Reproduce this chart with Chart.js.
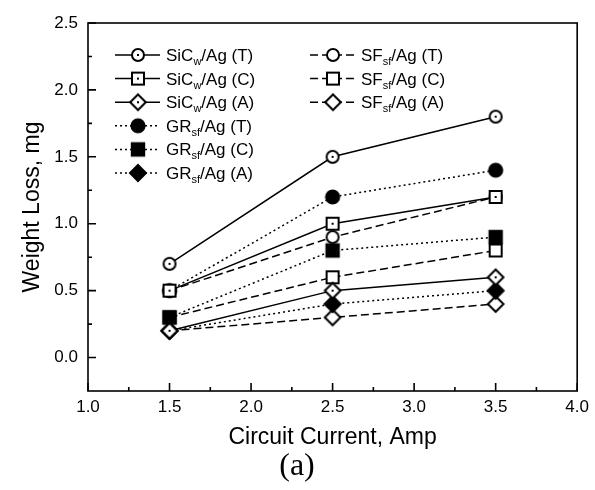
<!DOCTYPE html>
<html>
<head>
<meta charset="utf-8">
<script src="https://cdn.jsdelivr.net/npm/chart.js@4.4.0/dist/chart.umd.min.js"></script>
<style>
    html, body { margin: 0; padding: 0; background: #fff; }
    #wrap { width: 595px; height: 490px; }
</style>
</head>
<body>
<div id="wrap"><canvas id="chart"></canvas></div>
<script>
// values (weight loss in mg vs circuit current in A)
var currents = [1.5, 2.5, 3.5];
var sicT = [0.7, 1.5, 1.8];
var sicC = [0.5, 1.0, 1.2];
var sicA = [0.2, 0.5, 0.6];
var grT = [0.5, 1.2, 1.4];
var grC = [0.3, 0.8, 0.9];
var grA = [0.2, 0.4, 0.5];
var sfT = [0.5, 0.9, 1.2];
var sfC = [0.3, 0.6, 0.8];
var sfA = [0.2, 0.3, 0.4];

var xTicks = [1.0, 1.5, 2.0, 2.5, 3.0, 3.5, 4.0];
var yTicks = [0.0, 0.5, 1.0, 1.5, 2.0, 2.5];

// legend text: base, subscript, tail
var nameBase = ['SiC', 'SiC', 'SiC', 'GR', 'GR', 'GR', 'SF', 'SF', 'SF'];
var nameSub = ['w', 'w', 'w', 'sf', 'sf', 'sf', 'sf', 'sf', 'sf'];
var nameTail = ['/Ag (T)', '/Ag (C)', '/Ag (A)', '/Ag (T)', '/Ag (C)', '/Ag (A)', '/Ag (T)', '/Ag (C)', '/Ag (A)'];

var FONT = '"Liberation Sans", Arial, sans-serif';
var SOLID = [], DOTTED = [2, 3], DASHED = [8, 4];

function makeMarker(shape, filled, dotted) {
    var size = 22, c = document.createElement('canvas');
    c.width = size; c.height = size;
    var ctx = c.getContext('2d'), m = size / 2;
    ctx.lineWidth = 2;
    ctx.strokeStyle = '#000';
    ctx.fillStyle = filled ? '#000' : '#fff';
    ctx.beginPath();
    if (shape === 'circle') {
        ctx.arc(m, m, filled ? 6.6 : 6, 0, Math.PI * 2);
    } else if (shape === 'square') {
        var h = filled ? 6.2 : 6;
        ctx.rect(m - h, m - h, h * 2, h * 2);
    } else {
        var d = filled ? 8 : 7.8;
        ctx.moveTo(m, m - d); ctx.lineTo(m + d, m); ctx.lineTo(m, m + d); ctx.lineTo(m - d, m);
        ctx.closePath();
    }
    ctx.fill();
    ctx.stroke();
    if (dotted) {
        ctx.fillStyle = '#000';
        ctx.fillRect(m - 1, m - 1, 2, 2);
    }
    return c;
}

function series(values, shape, filled, dotted, dash) {
    return {
        data: values.map(function(v, i) { return {x: currents[i], y: v}; }),
        borderColor: '#000',
        borderWidth: 1.5,
        borderDash: dash,
        fill: false,
        tension: 0,
        pointStyle: makeMarker(shape, filled, dotted),
        pointRadius: 6
    };
}

var datasets = [
    series(sicT, 'circle', false, true, SOLID),
    series(sicC, 'square', false, true, SOLID),
    series(sicA, 'diamond', false, true, SOLID),
    series(grT, 'circle', true, false, DOTTED),
    series(grC, 'square', true, false, DOTTED),
    series(grA, 'diamond', true, false, DOTTED),
    series(sfT, 'circle', false, false, DASHED),
    series(sfC, 'square', false, false, DASHED),
    series(sfA, 'diamond', false, false, DASHED)
];

// frame round the plot and inward tick marks
var framePlugin = {
    id: 'frame',
    beforeDatasetsDraw: function(chart) {
        var ctx = chart.ctx, a = chart.chartArea;
        var xs = chart.scales.x, ys = chart.scales.y;
        ctx.save();
        ctx.strokeStyle = '#000';
        ctx.lineWidth = 1.6;
        ctx.strokeRect(a.left, a.top, a.right - a.left, a.bottom - a.top);
        ctx.beginPath();
        xTicks.forEach(function(v, i) {
            var px = xs.getPixelForValue(v);
            ctx.moveTo(px, a.bottom); ctx.lineTo(px, a.bottom - 8);
            if (i < xTicks.length - 1) {
                var mx = xs.getPixelForValue((v + xTicks[i + 1]) / 2);
                ctx.moveTo(mx, a.bottom); ctx.lineTo(mx, a.bottom - 4);
            }
        });
        yTicks.forEach(function(v, i) {
            var py = ys.getPixelForValue(v);
            ctx.moveTo(a.left, py); ctx.lineTo(a.left + 8, py);
            if (i < yTicks.length - 1) {
                var my = ys.getPixelForValue((v + yTicks[i + 1]) / 2);
                ctx.moveTo(a.left, my); ctx.lineTo(a.left + 4, my);
            }
        });
        ctx.stroke();
        ctx.restore();
    }
};

var legendPlugin = {
    id: 'seriesLegend',
    afterDraw: function(chart) {
        var ctx = chart.ctx;
        chart.data.datasets.forEach(function(ds, i) {
            var col = i < 6 ? 0 : 1, row = i < 6 ? i : i - 6;
            var x0 = col === 0 ? 115 : 310;
            var y = 55 + row * 23.6;
            ctx.save();
            ctx.strokeStyle = '#000';
            ctx.lineWidth = 1.5;
            ctx.setLineDash(ds.borderDash);
            ctx.beginPath();
            ctx.moveTo(x0, y); ctx.lineTo(x0 + 45, y);
            ctx.stroke();
            ctx.setLineDash([]);
            ctx.drawImage(ds.pointStyle, x0 + 23 - ds.pointStyle.width / 2, y - ds.pointStyle.height / 2);

            ctx.fillStyle = '#000';
            ctx.textBaseline = 'alphabetic';
            var tx = x0 + 51, base = y + 6;
            ctx.font = '17px ' + FONT;
            ctx.fillText(nameBase[i], tx, base);
            tx += ctx.measureText(nameBase[i]).width;
            ctx.font = '11px ' + FONT;
            ctx.fillText(nameSub[i], tx, base + 4);
            tx += ctx.measureText(nameSub[i]).width;
            ctx.font = '17px ' + FONT;
            ctx.fillText(nameTail[i], tx, base);
            ctx.restore();
        });

        // panel label
        ctx.save();
        ctx.fillStyle = '#000';
        ctx.font = '32px "Liberation Serif", "Times New Roman", serif';
        ctx.textAlign = 'center';
        ctx.textBaseline = 'middle';
        ctx.fillText('(a)', 297, 467);
        ctx.restore();
    }
};

Chart.defaults.font.family = FONT;
Chart.defaults.color = '#000';

new Chart(document.getElementById('chart').getContext('2d'), {
    type: 'line',
    data: { datasets: datasets },
    options: {
        responsive: true,
        maintainAspectRatio: false,
        animation: false,
        events: [],
        layout: { padding: { left: 0, right: 12, top: 23, bottom: 0 } },
        plugins: {
            legend: { display: false },
            tooltip: { enabled: false }
        },
        scales: {
            x: {
                type: 'linear',
                min: 1.0,
                max: 4.0,
                afterBuildTicks: function(s) { s.ticks = xTicks.map(function(v) { return {value: v}; }); },
                afterFit: function(s) { s.height = 99; },
                grid: { display: false, drawTicks: false },
                border: { display: false },
                ticks: {
                    autoSkip: false,
                    maxRotation: 0,
                    padding: 6,
                    font: { size: 17 },
                    color: '#000',
                    callback: function(v) { return Number(v).toFixed(1); }
                },
                title: {
                    display: true,
                    text: 'Circuit Current, Amp',
                    font: { size: 23 },
                    color: '#000',
                    padding: { top: 0, bottom: 39 }
                }
            },
            y: {
                type: 'linear',
                min: -0.25,
                max: 2.5,
                afterBuildTicks: function(s) { s.ticks = yTicks.map(function(v) { return {value: v}; }); },
                afterFit: function(s) { s.width = 88; },
                grid: { display: false, drawTicks: false },
                border: { display: false },
                ticks: {
                    autoSkip: false,
                    padding: 10,
                    font: { size: 17 },
                    color: '#000',
                    callback: function(v) { return Number(v).toFixed(1); }
                },
                title: {
                    display: true,
                    text: 'Weight Loss, mg',
                    font: { size: 23 },
                    color: '#000',
                    padding: { top: 19, bottom: 0 }
                }
            }
        }
    },
    plugins: [framePlugin, legendPlugin]
});
</script>
</body>
</html>
